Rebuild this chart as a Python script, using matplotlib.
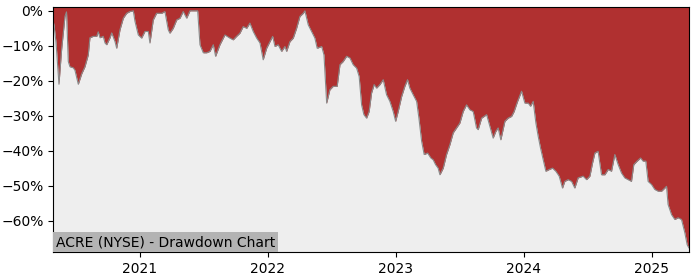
import matplotlib
matplotlib.use("Agg")
import matplotlib.pyplot as plt
import matplotlib.dates as mdates
from matplotlib.ticker import PercentFormatter
from datetime import datetime

# drawdown series: decimal year, drawdown in %
years = [
    2020.322, 2020.328, 2020.344, 2020.367, 2020.388, 2020.414, 2020.426, 2020.440,
    2020.453, 2020.479, 2020.492, 2020.518, 2020.545, 2020.570, 2020.596, 2020.609,
    2020.635, 2020.662, 2020.674, 2020.688, 2020.713, 2020.727, 2020.740, 2020.766,
    2020.779, 2020.805, 2020.818, 2020.844, 2020.870, 2020.896, 2020.922, 2020.948,
    2020.961, 2020.987, 2021.013, 2021.039, 2021.065, 2021.078, 2021.104, 2021.130,
    2021.170, 2021.195, 2021.221, 2021.234, 2021.260, 2021.287, 2021.313, 2021.338,
    2021.365, 2021.391, 2021.430, 2021.451, 2021.469, 2021.495, 2021.521, 2021.547,
    2021.573, 2021.591, 2021.625, 2021.664, 2021.703, 2021.729, 2021.755, 2021.781,
    2021.807, 2021.834, 2021.859, 2021.885, 2021.912, 2021.938, 2021.963, 2021.990,
    2022.016, 2022.037, 2022.055, 2022.080, 2022.107, 2022.133, 2022.146, 2022.172,
    2022.198, 2022.224, 2022.250, 2022.276, 2022.289, 2022.315, 2022.341, 2022.367,
    2022.385, 2022.420, 2022.438, 2022.459, 2022.484, 2022.510, 2022.541, 2022.563,
    2022.588, 2022.615, 2022.641, 2022.666, 2022.693, 2022.713, 2022.732, 2022.750,
    2022.771, 2022.791, 2022.810, 2022.830, 2022.849, 2022.875, 2022.901, 2022.927,
    2022.953, 2022.979, 2022.998, 2023.018, 2023.045, 2023.070, 2023.091, 2023.109,
    2023.135, 2023.162, 2023.180, 2023.201, 2023.221, 2023.248, 2023.273, 2023.291,
    2023.310, 2023.330, 2023.344, 2023.370, 2023.396, 2023.422, 2023.448, 2023.474,
    2023.500, 2023.526, 2023.552, 2023.578, 2023.604, 2023.630, 2023.643, 2023.670,
    2023.709, 2023.734, 2023.760, 2023.781, 2023.799, 2023.820, 2023.852, 2023.877,
    2023.904, 2023.924, 2023.951, 2023.982, 2024.008, 2024.034, 2024.052, 2024.073,
    2024.094, 2024.112, 2024.130, 2024.151, 2024.172, 2024.198, 2024.224, 2024.250,
    2024.276, 2024.302, 2024.320, 2024.346, 2024.373, 2024.398, 2024.424, 2024.463,
    2024.490, 2024.516, 2024.537, 2024.555, 2024.580, 2024.607, 2024.633, 2024.659,
    2024.685, 2024.711, 2024.737, 2024.763, 2024.789, 2024.815, 2024.841, 2024.859,
    2024.885, 2024.912, 2024.932, 2024.953, 2024.971, 2024.998, 2025.023, 2025.049,
    2025.076, 2025.102, 2025.115, 2025.127, 2025.154, 2025.180, 2025.205, 2025.232,
    2025.258, 2025.276, 2025.289,
]
drawdown = [
    -3.0, -4.0, -9.0, -21.0, -11.0, -1.6, -0.3, -14.5,
    -16.0, -16.3, -17.0, -21.0, -18.0, -16.0, -12.6, -7.7,
    -7.3, -7.3, -6.0, -7.7, -7.3, -9.2, -9.7, -7.7,
    -6.3, -8.8, -10.7, -5.4, -2.1, -0.7, -0.2, 0.0,
    -3.0, -6.9, -7.8, -5.9, -5.9, -9.2, -2.6, -0.7,
    -0.7, -0.2, -5.4, -6.4, -5.0, -2.6, -2.1, -0.2,
    -2.1, 0.0, 0.0, 0.0, -9.7, -12.0, -12.0, -11.6,
    -9.7, -13.0, -9.7, -6.9, -7.8, -8.3, -7.3, -6.4,
    -4.5, -5.0, -3.5, -5.9, -7.8, -9.2, -14.0, -10.7,
    -8.8, -7.3, -10.2, -9.7, -11.6, -10.2, -11.6, -8.8,
    -7.8, -5.0, -1.6, -0.7, 0.0, -4.0, -5.9, -7.8,
    -10.7, -10.2, -12.6, -26.4, -22.6, -21.6, -21.6, -15.4,
    -14.5, -13.0, -13.5, -15.4, -16.4, -18.8, -26.9, -29.7,
    -30.7, -28.8, -23.5, -21.1, -22.1, -21.1, -19.7, -24.0,
    -25.9, -28.8, -31.6, -28.8, -24.5, -21.6, -19.7, -22.1,
    -24.0, -25.9, -30.7, -37.3, -41.1, -40.7, -42.1, -42.6,
    -44.0, -45.0, -46.9, -45.0, -41.1, -38.3, -34.9, -33.5,
    -32.1, -28.8, -26.9, -28.3, -28.8, -33.5, -34.0, -30.7,
    -29.7, -33.0, -36.4, -34.5, -33.5, -36.9, -31.6, -30.7,
    -30.2, -28.8, -25.9, -23.0, -26.4, -26.4, -27.3, -25.9,
    -32.1, -35.9, -39.2, -42.6, -45.9, -45.4, -45.0, -45.9,
    -47.3, -50.7, -48.8, -48.3, -48.8, -50.7, -47.8, -47.3,
    -48.3, -47.3, -43.5, -40.7, -40.2, -46.9, -46.9, -45.4,
    -45.9, -41.1, -44.0, -46.4, -47.8, -48.3, -48.8, -44.0,
    -43.0, -42.1, -43.0, -43.0, -48.8, -49.7, -51.1, -51.6,
    -51.6, -50.7, -50.2, -55.4, -58.3, -59.7, -59.2, -59.7,
    -63.5, -66.9, -67.8,
]
title = "ACRE (NYSE) - Drawdown Chart"

base = mdates.date2num(datetime(2021, 1, 1))
dates = [base + (y - 2021) * 365.25 for y in years]

fig = plt.figure(figsize=(7, 2.8), dpi=100)
ax = fig.add_axes([0.076, 0.1, 0.908, 0.875])
ax.set_facecolor("#eeeeee")

ax.fill_between(dates, drawdown, 5, color="#b03030", linewidth=0)
ax.plot(dates, drawdown, color="#8a8a8a", linewidth=0.8)

ax.set_xlim(dates[0], dates[-1])
ax.set_ylim(-69, 1.1)
ax.yaxis.set_major_formatter(PercentFormatter(decimals=0))
ax.set_yticks([0, -10, -20, -30, -40, -50, -60])
ax.xaxis.set_major_locator(mdates.YearLocator())
ax.xaxis.set_major_formatter(mdates.DateFormatter("%Y"))

ax.text(0.004, 0.012, title, transform=ax.transAxes, fontsize=10,
        ha="left", va="bottom",
        bbox=dict(facecolor="#b3b3b3", edgecolor="none", pad=2))

fig.savefig("out.png")
